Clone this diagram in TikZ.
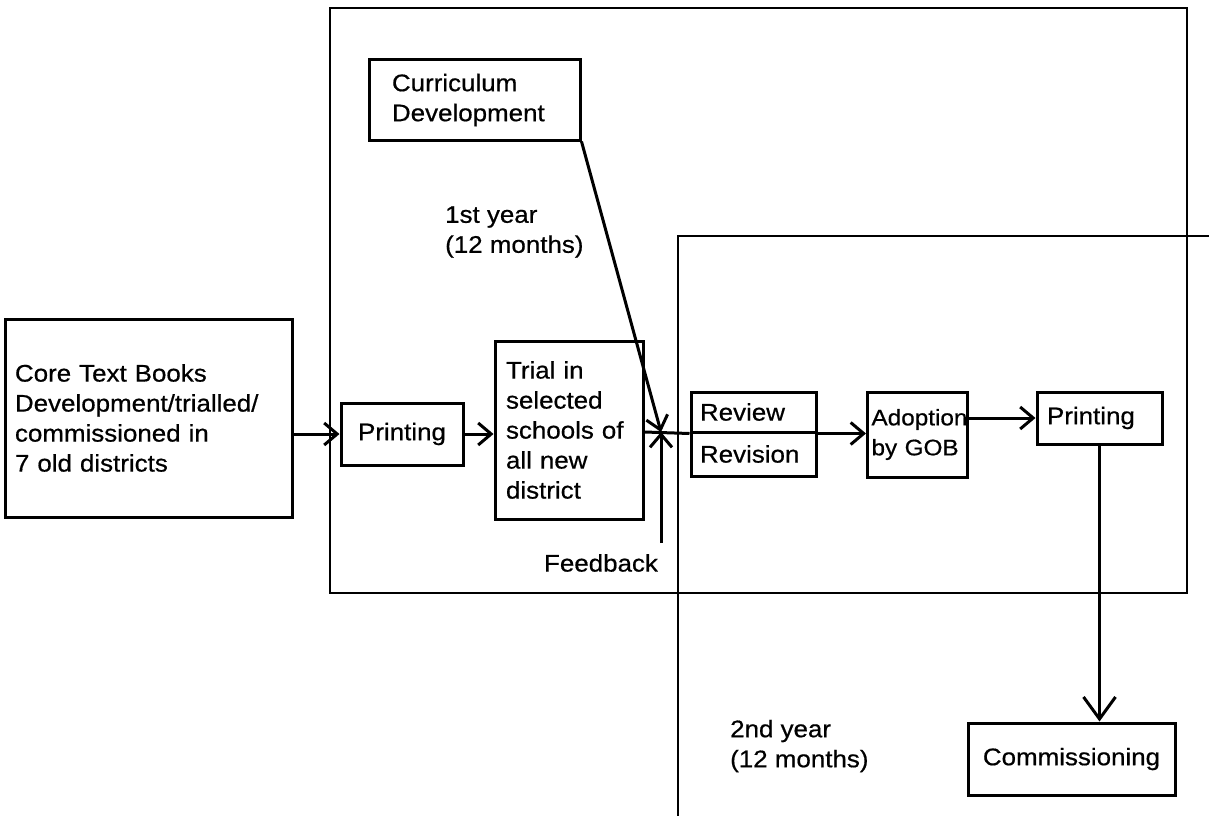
\documentclass[tikz,border=0pt]{standalone}
\usepackage{fontspec}
\setmainfont{Liberation Sans}[FakeStretch=1.08,FakeBold=0.6]
\usetikzlibrary{arrows.meta}
\begin{document}
\begin{tikzpicture}[x=1pt,y=-1pt,
  every node/.style={font=\fontsize{24}{30}\selectfont},
  bx/.style={draw, line width=3pt, inner ysep=0pt, align=left},
  frm/.style={line width=2.8pt},
  ar/.style={line width=3pt, -{Straight Barb[length=13pt,width=22pt,line width=3pt]}},
  bigar/.style={line width=3pt, -{Straight Barb[length=22pt,width=32pt,line width=3pt]}},
  ln/.style={line width=3pt},
  lbl/.style={align=left, inner sep=0pt}
]
\useasboundingbox (0,0) rectangle (1209,816);
% frames
\draw[frm] (330,8) rectangle (1187,593);
\draw[frm] (1209,236) -- (678,236) -- (678,816);

% boxes
\node[bx, inner xsep=10pt, text width=267pt, minimum height=198pt] (core) at (148.5,418)
  {Core Text Books\\Development/trialled/\\commissioned in\\7 old districts};
\node[bx, inner xsep=12pt, text width=98pt, align=center, minimum height=62pt] (print1) at (402,434) {Printing};
\node[bx, inner xsep=11pt, text width=126pt, minimum height=178pt] (trial) at (569,430)
  {Trial in\\selected\\schools of\\all new\\district};
\node[bx, inner xsep=23pt, text width=165pt, minimum height=80pt] (curr) at (474.5,100)
  {Curriculum\\Development};
\node[bx, inner xsep=9pt, text width=107pt, minimum height=40pt] (review) at (753.5,412) {Review};
\node[bx, inner xsep=9pt, text width=107pt, minimum height=44pt] (revision) at (753.5,454) {Revision};
\node[bx, inner xsep=4pt, text width=92pt, minimum height=85pt, font=\fontsize{22.5}{30}\selectfont] (adopt) at (917.5,434.5)
  {Adoption\\by GOB};
\node[bx, inner xsep=10pt, text width=105pt, minimum height=52pt] (print2) at (1099.5,418) {Printing};
\node[bx, inner xsep=10pt, text width=187pt, align=center, minimum height=72pt] (comm) at (1071.5,759) {Commissioning};

% labels
\node[lbl, anchor=west] (y1) at (445,232) {1st year\\(12 months)};
\node[lbl, anchor=west] (y2) at (730,746) {2nd year\\(12 months)};
\node[lbl] (fbl) at (601,563) {Feedback};

% connectors
\coordinate (m) at (661,432);
\coordinate (fb) at (661,543);
\draw[ar] (core.east |- print1.west) -- (print1.west);
\draw[ar] (print1.east) -- (print1.east -| trial.west);
\draw[ar] (curr.south east) -- (m);
\draw[ar] (fb) -- (m);
\draw[ln] (trial.east |- m) -- (review.south west);
\draw[ar] (review.south east) -- (review.south east -| adopt.west);
\draw[ar] (adopt.east |- print2.west) -- (print2.west);
\draw[bigar] (print2.south) -- (print2.south |- comm.north);
\end{tikzpicture}
\end{document}
